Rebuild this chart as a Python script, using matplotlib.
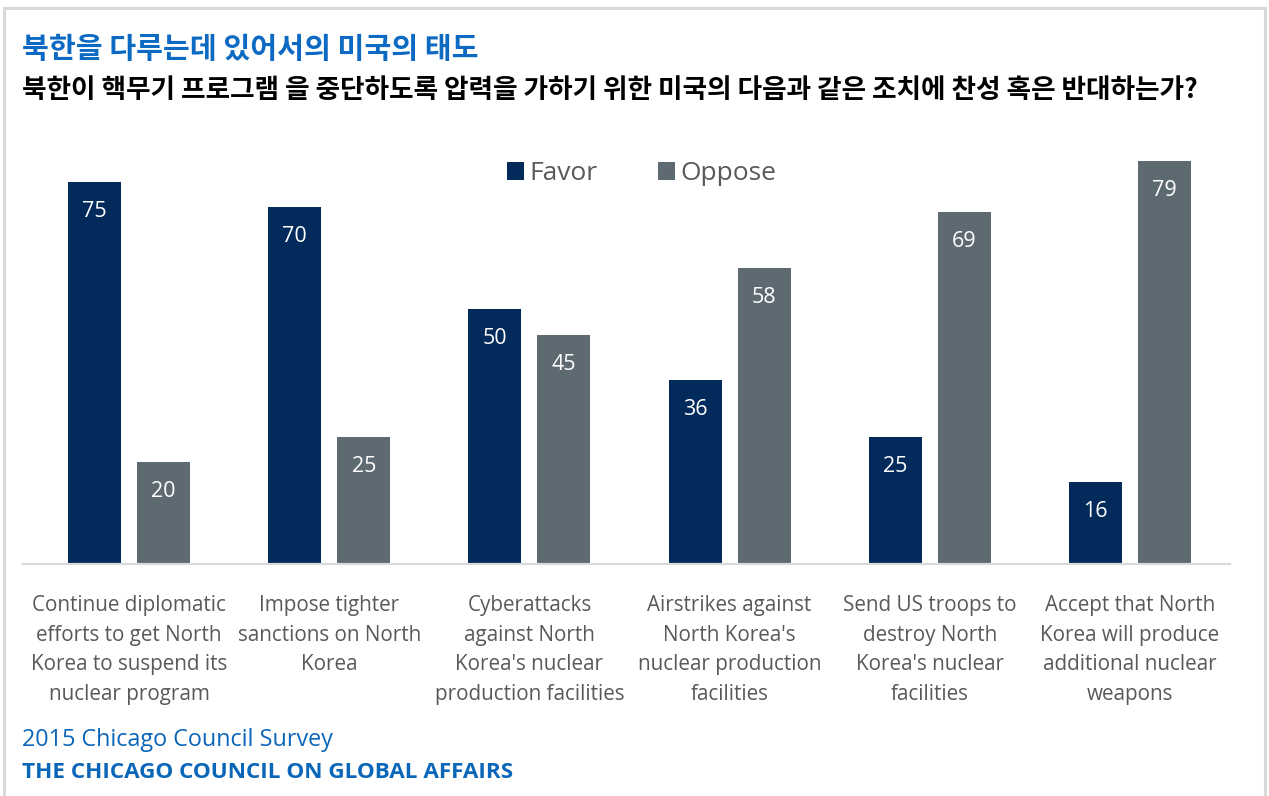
import matplotlib
matplotlib.use("Agg")
import matplotlib.pyplot as plt
from matplotlib.patches import Patch
from matplotlib.lines import Line2D
import numpy as np

# ---- data ----
categories = [
    "Continue diplomatic\nefforts to get North\nKorea to suspend its\nnuclear program",
    "Impose tighter\nsanctions on North\nKorea",
    "Cyberattacks\nagainst North\nKorea's nuclear\nproduction facilities",
    "Airstrikes against\nNorth Korea's\nnuclear production\nfacilities",
    "Send US troops to\ndestroy North\nKorea's nuclear\nfacilities",
    "Accept that North\nKorea will produce\nadditional nuclear\nweapons",
]
favor = [75, 70, 50, 36, 25, 16]
oppose = [20, 25, 45, 58, 69, 79]
series_names = ["Favor", "Oppose"]

title = "북한을 다루는데 있어서의 미국의 태도"
subtitle = "북한이 핵무기 프로그램 을 중단하도록 압력을 가하기 위한 미국의 다음과 같은 조치에 찬성 혹은 반대하는가?"
source = "2015 Chicago Council Survey"
org = "THE CHICAGO COUNCIL ON GLOBAL AFFAIRS"

# ---- style ----
NAVY = "#022b5c"
GRAY = "#5e6a72"
BLUE = "#0d6ac2"
FOOT_BLUE = "#0a66b8"
LABEL_GRAY = "#595959"
LATIN = ["Open Sans", "DejaVu Sans"]
KOREAN = ["Noto Sans CJK KR", "DejaVu Sans"]

W, H = 1269, 796
fig = plt.figure(figsize=(W / 100, H / 100), dpi=100)
fig.patch.set_facecolor("white")


def fx(px):
    return px / W


def fy(py):
    return 1 - py / H


# frame around the whole graphic
for xs, ys in [((4, 1265), (8, 8)), ((4, 4), (8, 796)), ((1265, 1265), (8, 796))]:
    fig.add_artist(Line2D([fx(x) for x in xs], [fy(y) for y in ys],
                          transform=fig.transFigure, color="#d9d9d9", lw=2.2))

renderer = fig.canvas.get_renderer()


def fitted_text(x, y, s, target_w, size0, **kw):
    t = fig.text(fx(x), fy(y), s, fontsize=size0, **kw)
    w = t.get_window_extent(renderer).width
    t.set_fontsize(size0 * target_w / w)
    return t


fitted_text(22, 49, title, 456, 18, family=KOREAN, weight="bold",
            color=BLUE, va="center", ha="left")
fitted_text(22, 91, subtitle, 1182, 16, family=KOREAN, weight="bold",
            color="black", va="center", ha="left")
fitted_text(22, 740, source, 311, 15, family=LATIN, color=FOOT_BLUE,
            va="center", ha="left")
fitted_text(22, 773, org, 493, 15, family=LATIN, weight="bold",
            color=FOOT_BLUE, va="center", ha="left")

# ---- bars ----
left_px, right_px = 23, 1230
base_px = 564
ymax = 85
px_per_unit = 5.1
ax = fig.add_axes([fx(left_px), fy(base_px), fx(right_px - left_px),
                   ymax * px_per_unit / H])
ax.set_xlim(-0.53, 5.5)
ax.set_ylim(0, ymax)

x = np.arange(len(categories))
bw = 0.265
off = 0.1725
b1 = ax.bar(x - off, favor, bw, color=NAVY, label=series_names[0])
b2 = ax.bar(x + off, oppose, bw, color=GRAY, label=series_names[1])

for bars, vals in [(b1, favor), (b2, oppose)]:
    for rect, v in zip(bars, vals):
        ax.text(rect.get_x() + rect.get_width() / 2, v - 5.8, f"{v}",
                ha="center", va="center", color="white", fontsize=15.5,
                family=LATIN)

for s in ["top", "right", "left"]:
    ax.spines[s].set_visible(False)
ax.spines["bottom"].set_color("#d9d9d9")
ax.spines["bottom"].set_linewidth(1.6)
ax.set_yticks([])
ax.set_xticks(x)
ax.set_xticklabels(categories, family=LATIN, fontsize=14.9, color=LABEL_GRAY,
                   linespacing=1.53, va="top")
ax.tick_params(axis="x", length=0, pad=22.5)

# ---- legend ----
handles = [Patch(facecolor=NAVY), Patch(facecolor=GRAY)]
leg = fig.legend(handles, series_names, loc="center left",
                 bbox_to_anchor=(fx(507), fy(174)), bbox_transform=fig.transFigure,
                 frameon=False, ncol=2, prop={"family": LATIN, "size": 19},
                 handlelength=0.66, handleheight=0.66, handletextpad=0.18,
                 columnspacing=2.3, borderpad=0, borderaxespad=0)
for t in leg.get_texts():
    t.set_color(LABEL_GRAY)

fig.savefig("out.png", dpi=100, facecolor="white")
